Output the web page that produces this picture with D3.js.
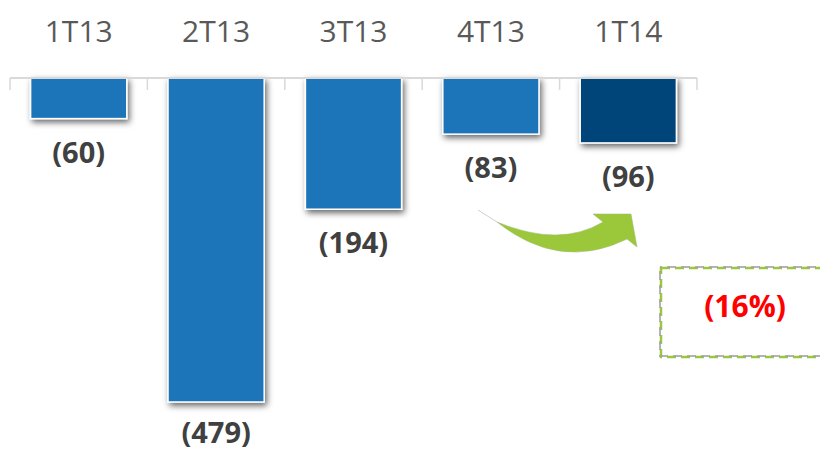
<!DOCTYPE html>
<html><head><meta charset="utf-8">
<script src="https://cdn.jsdelivr.net/npm/d3@7"></script>
<style>html,body{margin:0;padding:0;background:#fff;}svg{display:block;}</style>
</head><body>
<svg id="c" width="820" height="450"></svg>
<script>
const categories = ["1T13","2T13","3T13","4T13","1T14"];
const values = [-60,-479,-194,-83,-96];
const valueLabels = ["(60)","(479)","(194)","(83)","(96)"];
const barColors = ["#1c74b9","#1c74b9","#1c74b9","#1c74b9","#03447a"];
const changeLabel = "(16%)";

const svg = d3.select("#c");
const defs = svg.append("defs");
const f = defs.append("filter").attr("id","sh").attr("x","-20%").attr("y","-20%").attr("width","150%").attr("height","150%");
f.append("feDropShadow").attr("dx",2).attr("dy",3).attr("stdDeviation",3).attr("flood-color","#000").attr("flood-opacity",0.6);

const x = d3.scaleBand().domain(categories).range([10,697]).paddingInner(0.3).paddingOuter(0.15);
const y = d3.scaleLinear().domain([0,-479]).range([78,402]);

// bars
svg.append("g").selectAll("rect").data(values).join("rect")
  .attr("x",(d,i)=>x(categories[i]))
  .attr("y",y(0))
  .attr("width",x.bandwidth())
  .attr("height",d=>y(d)-y(0))
  .attr("fill",(d,i)=>barColors[i])
  .attr("stroke","#fff").attr("stroke-width",1.5)
  .attr("filter","url(#sh)");

// axis line with tick marks between categories
const axisG = svg.append("g");
axisG.append("line").attr("x1",10).attr("x2",697).attr("y1",78).attr("y2",78)
  .attr("stroke","#d9d9d9").attr("stroke-width",2);
const step = x.step();
const x0 = x(categories[0]) - x.paddingOuter()*step - x.paddingInner()*step/2 + x.paddingInner()*step/2;
axisG.selectAll("line.t").data(d3.range(categories.length+1)).join("line").attr("class","t")
  .attr("x1",i=>10+i*step).attr("x2",i=>10+i*step)
  .attr("y1",78).attr("y2",90).attr("stroke","#d9d9d9").attr("stroke-width",1.5);

// category labels
svg.append("g").selectAll("text").data(categories).join("text")
  .attr("x",d=>x(d)+x.bandwidth()/2).attr("y",42)
  .attr("text-anchor","middle")
  .attr("font-family","'Open Sans', sans-serif").attr("font-size",30)
  .attr("fill","#595959").text(d=>d);

// value labels
svg.append("g").selectAll("text").data(values).join("text")
  .attr("x",(d,i)=>x(categories[i])+x.bandwidth()/2)
  .attr("y",d=>Math.min(y(d)+44, 443))
  .attr("text-anchor","middle")
  .attr("font-family","'Open Sans', sans-serif").attr("font-weight","bold").attr("font-size",29)
  .attr("fill","#404040").text((d,i)=>valueLabels[i]);

// curved arrow
svg.append("path")
  .attr("d","M478,210 L497,222 Q560,248 603,222 L593,214 L631,214 L637,247 L627,239 Q560,272 497,222")
  .attr("fill","none").attr("stroke","#d0d0d0").attr("stroke-width",1);
svg.append("path")
  .attr("d","M497,222 Q560,248 603,222 L593,214 L631,214 L637,247 L627,239 Q560,272 497,222 Z")
  .attr("fill","#9bc83a");

// dashed box
svg.append("rect").attr("x",661).attr("y",268).attr("width",180).attr("height",89)
  .attr("fill","none").attr("stroke","#9bc83a").attr("stroke-width",2.5).attr("stroke-dasharray","9,5");
svg.append("rect").attr("x",660).attr("y",267).attr("width",180).attr("height",89)
  .attr("fill","none").attr("stroke","#a0a0a0").attr("stroke-width",2).attr("stroke-dasharray","9,5").attr("stroke-dashoffset",7).attr("opacity",0.8);
svg.append("text").attr("x",745).attr("y",317).attr("text-anchor","middle")
  .attr("font-family","'Open Sans', sans-serif").attr("font-weight","bold").attr("font-size",30)
  .attr("fill","#ff0000").text(changeLabel);
</script>
</body></html>
